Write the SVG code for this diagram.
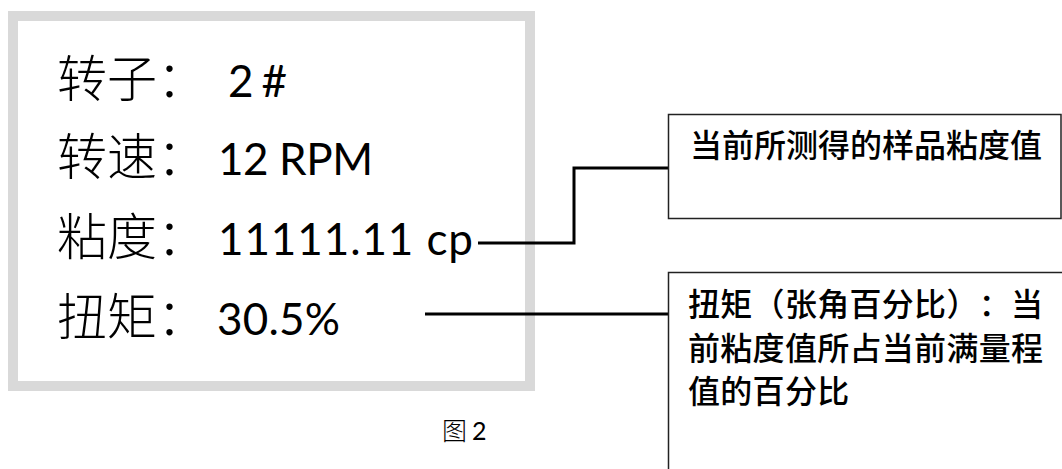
<svg xmlns="http://www.w3.org/2000/svg" width="1062" height="469" viewBox="0 0 1062 469">
  <style>
    text { text-spacing-trim: space-all; }
    .cjk { font-family: "Noto Sans CJK SC", sans-serif; fill: #000; }
    .lat { font-family: Lato, "Liberation Sans", sans-serif; fill: #000; }
    .lbl { font-size: 50px; font-weight: 300; }
    .val { font-size: 44px; }
    .note { font-family: "Noto Sans CJK SC", sans-serif; font-size: 32px; font-weight: 500; fill: #000; }
    .box { fill: #fff; stroke: #222; stroke-width: 1.5; }
    .conn { fill: none; stroke: #000; stroke-width: 3; }
  </style>
  <rect width="1062" height="469" fill="#fff"/>
  <g id="display">
    <rect x="13" y="16" width="517" height="370" fill="#fff" stroke="#d9d9d9" stroke-width="10"/>
    <text class="cjk lbl" x="57" y="97">转子：</text>
    <text class="lat val" x="228" y="97" textLength="59" lengthAdjust="spacing">2 #</text>
    <text class="cjk lbl" x="57" y="175">转速：</text>
    <text class="lat val" x="218" y="175" textLength="155" lengthAdjust="spacing">12 RPM</text>
    <text class="cjk lbl" x="57" y="255">粘度：</text>
    <text class="lat val" x="218" y="255" textLength="255" lengthAdjust="spacing">11111.11 cp</text>
    <text class="cjk lbl" x="57" y="335">扭矩：</text>
    <text class="lat val" x="217" y="335" textLength="123" lengthAdjust="spacing">30.5%</text>
  </g>
  <g id="caption">
    <text class="cjk" x="442" y="440" font-size="25" font-weight="300">图</text>
    <text class="lat" x="472" y="440" font-size="25">2</text>
  </g>
  <g id="connectors">
    <path class="conn" d="M478 243 H574 V168 H668"/>
    <path class="conn" d="M425 314 H668"/>
  </g>
  <g id="note-viscosity">
    <rect class="box" x="668.5" y="114.5" width="392.5" height="104"/>
    <text class="note" x="690" y="157">当前所测得的样品粘度值</text>
  </g>
  <g id="note-torque">
    <rect class="box" x="668.5" y="272.5" width="420" height="220"/>
    <text class="note" x="688 720.3 752.6 784.9 817.2 849.5 881.8 914.1 946.4 978.7 1011" y="316">扭矩（张角百分比）：当</text>
    <text class="note" x="688 720.3 752.6 784.9 817.2 849.5 881.8 914.1 946.4 978.7 1011" y="360">前粘度值所占当前满量程</text>
    <text class="note" x="688 720.3 752.6 784.9 817.2" y="403">值的百分比</text>
  </g>
</svg>
